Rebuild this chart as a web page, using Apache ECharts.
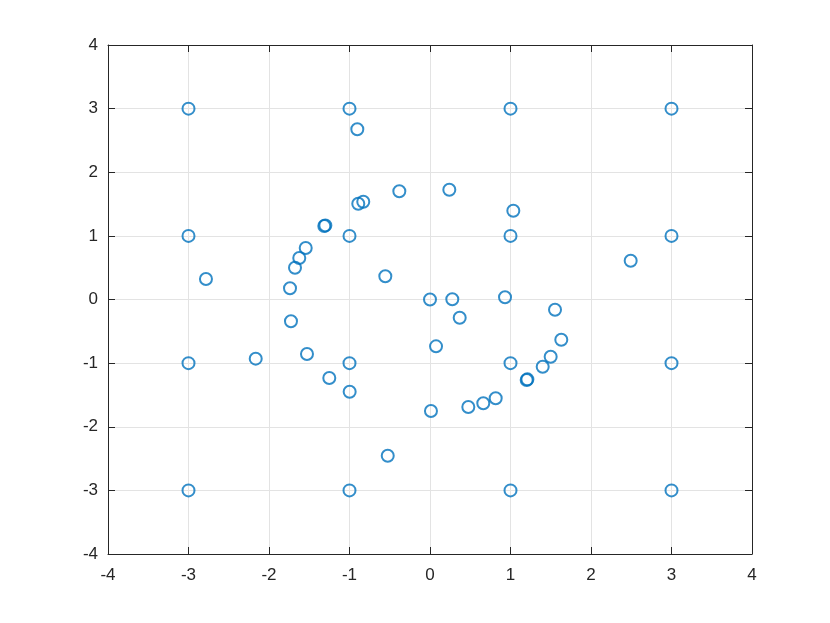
<!DOCTYPE html>
<html><head><meta charset="utf-8">
<script src="https://cdn.jsdelivr.net/npm/echarts@6/dist/echarts.min.js"></script>
<style>html,body{margin:0;padding:0;background:#fff}#c{width:830px;height:623px}</style>
</head><body><div id="c"></div>
<script>
const xs = [-3,-1,1,3,-3,-1,1,3,-3,-1,1,3,-3,-1,1,3,0,
  -0.903,-0.381,0.240,-0.891,-0.829,1.035,-1.313,-1.30,-1.544,-1.624,-1.677,2.493,-2.783,-1.739,-0.555,
  0.277,0.932,1.553,0.369,-1.727,1.631,0.075,-2.165,-1.528,1.499,1.400,-1.251,1.201,1.21,-0.998,0.816,0.662,0.476,0.012,-0.525];
const ys = [3,3,3,3,1,1,1,1,-1,-1,-1,-1,-3,-3,-3,-3,0,
  2.675,1.701,1.726,1.506,1.537,1.396,1.155,1.165,0.809,0.652,0.500,0.610,0.322,0.176,0.365,
  0.003,0.035,-0.160,-0.286,-0.343,-0.632,-0.736,-0.930,-0.857,-0.899,-1.056,-1.234,-1.265,-1.255,-1.449,-1.553,-1.631,-1.690,-1.752,-2.455];
const axMin = -4, axMax = 4, axStep = 1;

const pts = xs.map((x,i)=>[x, ys[i]]);
const ax = '#262626';
const font = '"Liberation Sans", Arial, sans-serif';
function mkAxis(pos, showLabel, grid, margin){
  return {
    type:'value', position:pos, min:axMin, max:axMax, interval:axStep,
    axisLine:{show:true, onZero:false, lineStyle:{color:ax, width:1}},
    axisTick:{show:true, inside:true, length:7, lineStyle:{color:ax, width:1}},
    axisLabel:{show:showLabel, color:ax, fontSize:17, fontFamily:font, margin:margin},
    splitLine:{show:grid, lineStyle:{color:'#e3e3e3', width:1}}
  };
}
const chart = echarts.init(document.getElementById('c'), null, {renderer:'canvas'});
chart.setOption({
  backgroundColor:'#fff',
  animation:false,
  grid:{left:108, top:45, right:78, bottom:69},
  xAxis:[mkAxis('bottom', true, true, 13), mkAxis('top', false, false, 8)],
  yAxis:[mkAxis('left', true, true, 10), mkAxis('right', false, false, 8)],
  series:[{
    type:'scatter', data:pts, symbol:'circle', symbolSize:12,
    itemStyle:{color:'rgba(0,0,0,0)', borderColor:'#0072BD', borderWidth:2}
  }]
});
</script></body></html>
